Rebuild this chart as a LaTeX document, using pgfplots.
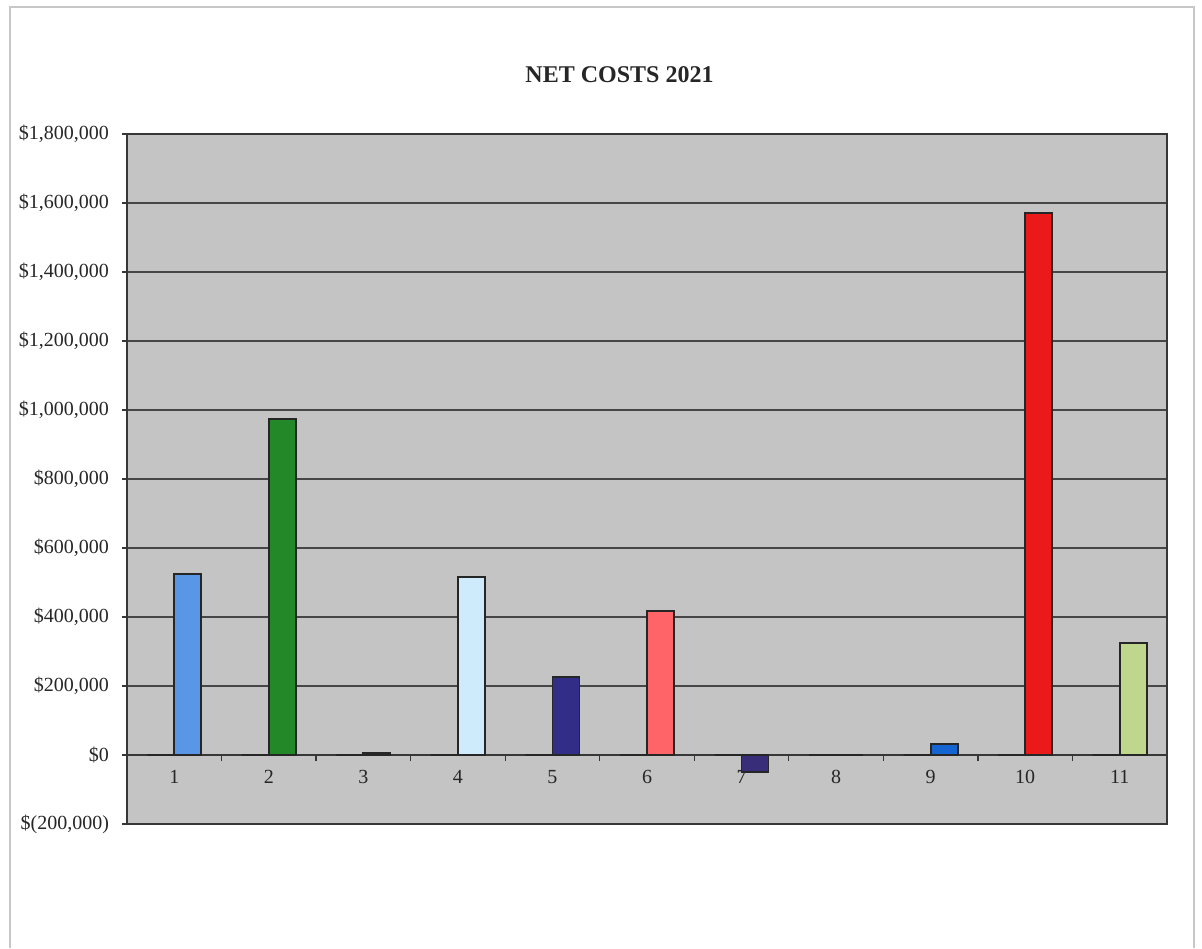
\documentclass[border=0pt]{standalone}
\usepackage{pgfplots}
\pgfplotsset{compat=1.18}
\usepackage{fontspec}
\setmainfont{Liberation Serif}
\definecolor{bggray}{RGB}{196,196,196}
\definecolor{framegray}{RGB}{55,55,55}
\definecolor{gridgray}{RGB}{70,70,70}
\definecolor{c1}{RGB}{90,150,230}
\definecolor{c2}{RGB}{34,136,40}
\definecolor{c3}{RGB}{40,40,60}
\definecolor{c4}{RGB}{205,235,250}
\definecolor{c5}{RGB}{50,45,135}
\definecolor{c6}{RGB}{255,100,105}
\definecolor{c7}{RGB}{55,45,120}
\definecolor{c8}{RGB}{60,60,60}
\definecolor{c9}{RGB}{20,100,210}
\definecolor{c10}{RGB}{235,25,25}
\definecolor{c11}{RGB}{190,215,140}
\begin{document}
\begin{tikzpicture}[x=1pt,y=1pt]
\path[use as bounding box] (0,0) rectangle (601,474);
\draw[black!22, line width=1pt] (5,0) -- (5,470.5) -- (597,470.5) -- (597,0);
\node[font=\bfseries\fontsize{12}{14}\selectfont, text=black!85] at (309.75,436.5) {NET COSTS 2021};
\begin{axis}[
  at={(63.5pt,62pt)}, anchor=south west,
  width=520pt, height=345pt, scale only axis,
  xmin=0.5, xmax=11.5,
  ymin=-200000, ymax=1800000,
  axis x line*=middle, axis y line*=left,
  axis line style={framegray, line width=0.6pt},
  axis background/.style={fill=bggray},
  xtick={1,2,3,4,5,6,7,8,9,10,11},
  xticklabels={1,2,3,4,5,6,7,8,9,10,11},
  major x tick style={draw=none},
  minor xtick={1.5,2.5,3.5,4.5,5.5,6.5,7.5,8.5,9.5,10.5},
  minor x tick style={framegray, line width=0.6pt},
  minor tick length=3pt,
  major tick length=2.5pt,
  tick align=outside,
  ytick={-200000,0,200000,400000,600000,800000,1000000,1200000,1400000,1600000,1800000},
  yticklabels={{\$(200,000)},{\$0},{\$200,000},{\$400,000},{\$600,000},{\$800,000},{\$1,000,000},{\$1,200,000},{\$1,400,000},{\$1,600,000},{\$1,800,000}},
  scaled y ticks=false,
  ytick style={framegray, line width=0.6pt},
  ymajorgrids,
  grid style={gridgray, line width=0.6pt},
  ticklabel style={font=\fontsize{10}{12}\selectfont, text=black!85},
  xticklabel style={yshift=-1.5pt},
  yticklabel style={xshift=-3pt},
  clip=false,
]
\draw[framegray, line width=0.6pt] (rel axis cs:0,0) rectangle (rel axis cs:1,1);
\addplot[ybar, bar width=13.5pt, bar shift=-6.75pt, fill=black, draw=black!85, line width=1.4pt]
  coordinates {(1,0) (2,0) (3,0) (4,0) (5,0) (6,0) (7,0) (8,0) (9,0) (10,0) (11,0)};
\addplot[ybar, bar width=13.5pt, bar shift=6.75pt, fill=c1, draw=black!85, line width=0.9pt] coordinates {(1,525000)};
\addplot[ybar, bar width=13.5pt, bar shift=6.75pt, fill=c2, draw=black!85, line width=0.9pt] coordinates {(2,975000)};
\addplot[ybar, bar width=13.5pt, bar shift=6.75pt, fill=c3, draw=black!85, line width=0.9pt] coordinates {(3,5000)};
\addplot[ybar, bar width=13.5pt, bar shift=6.75pt, fill=c4, draw=black!85, line width=0.9pt] coordinates {(4,515000)};
\addplot[ybar, bar width=13.5pt, bar shift=6.75pt, fill=c5, draw=black!85, line width=0.9pt] coordinates {(5,227000)};
\addplot[ybar, bar width=13.5pt, bar shift=6.75pt, fill=c6, draw=black!85, line width=0.9pt] coordinates {(6,418000)};
\addplot[ybar, bar width=13.5pt, bar shift=6.75pt, fill=c7, draw=black!85, line width=0.9pt] coordinates {(7,-49000)};
\addplot[ybar, bar width=13.5pt, bar shift=6.75pt, fill=c8, draw=black!85, line width=1.4pt] coordinates {(8,0)};
\addplot[ybar, bar width=13.5pt, bar shift=6.75pt, fill=c9, draw=black!85, line width=0.9pt] coordinates {(9,31000)};
\addplot[ybar, bar width=13.5pt, bar shift=6.75pt, fill=c10, draw=black!85, line width=0.9pt] coordinates {(10,1570000)};
\addplot[ybar, bar width=13.5pt, bar shift=6.75pt, fill=c11, draw=black!85, line width=0.9pt] coordinates {(11,325000)};
\end{axis}
\end{tikzpicture}
\end{document}
